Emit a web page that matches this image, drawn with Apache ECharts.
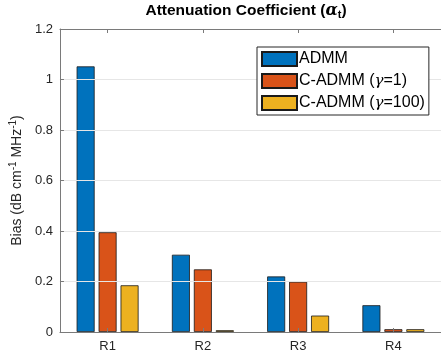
<!DOCTYPE html>
<html>
<head>
<meta charset="utf-8">
<script src="https://cdn.jsdelivr.net/npm/echarts@6/dist/echarts.min.js"></script>
<style>
  html, body { margin: 0; padding: 0; background: #fff; }
  #chart { width: 441px; height: 360px; }
</style>
</head>
<body>
<div id="chart"></div>
<script>
// 数据
const categories = ['R1', 'R2', 'R3', 'R4']
const admm = [1.052, 0.306, 0.220, 0.106]
const cadmm1 = [0.395, 0.248, 0.199, 0.011]
const cadmm100 = [0.185, 0.007, 0.065, 0.011]
const yTicks = [0, 0.2, 0.4, 0.6, 0.8, 1, 1.2]

const Colors = ['#0072BD', '#D95319', '#EDB120']
const FONT = '"Liberation Sans", Arial, sans-serif'
const SERIF = '"DejaVu Serif", serif'
const AXIS_COLOR = '#7a7a7a'
const TEXT_COLOR = '#262626'

const seriesList = [
  { name: 'ADMM', legend: 'ADMM', data: admm },
  { name: 'C-ADMM (γ=1)', legend: 'C-ADMM ({g|γ}=1)', data: cadmm1 },
  { name: 'C-ADMM (γ=100)', legend: 'C-ADMM ({g|γ}=100)', data: cadmm100 }
]

var myChart = echarts.init(document.getElementById('chart'), null, { renderer: 'canvas' })

var option = {
  animation: false,
  textStyle: { fontFamily: FONT },
  title: {
    text: 'Attenuation Coefficient ({a|α}{sub|t})',
    left: 246,
    textAlign: 'center',
    top: 1,
    padding: 0,
    textStyle: {
      color: '#000',
      fontSize: 15.5,
      fontWeight: 'bold',
      fontFamily: FONT,
      rich: {
        a: { fontSize: 16, fontStyle: 'italic', fontFamily: SERIF, color: '#000' },
        sub: { fontSize: 11, fontWeight: 'bold', fontFamily: FONT, verticalAlign: 'bottom', padding: [8, 0, 0, 0], color: '#000' }
      }
    }
  },
  legend: {
    data: seriesList.map(x => x.name),
    orient: 'vertical',
    left: 257,
    top: 47,
    z: 20,
    padding: [4, 4, 4, 4],
    itemGap: 6,
    itemWidth: 35,
    itemHeight: 14,
    backgroundColor: '#fff',
    borderColor: '#262626',
    borderWidth: 1,
    borderRadius: 0,
    icon: 'rect',
    formatter: function (name) {
      return seriesList.find(x => x.name === name).legend
    },
    textStyle: {
      color: '#000',
      fontSize: 16,
      fontFamily: FONT,
      padding: [0, 0, 0, -3],
      rich: {
        g: { fontSize: 15, fontStyle: 'italic', fontFamily: SERIF, color: '#000' }
      }
    }
  },
  grid: {
    left: 56,
    top: 29,
    width: 392,
    height: 303
  },
  xAxis: [
    {
      type: 'category',
      data: categories,
      boundaryGap: true,
      z: 10,
      axisLine: { show: true, lineStyle: { color: AXIS_COLOR, width: 1 } },
      axisTick: { show: true, inside: true, alignWithLabel: true, length: 4, lineStyle: { color: AXIS_COLOR } },
      axisLabel: { color: TEXT_COLOR, fontSize: 13, margin: 8, fontFamily: FONT }
    },
    {
      type: 'category',
      data: categories,
      position: 'top',
      boundaryGap: true,
      z: 10,
      axisLine: { show: true, lineStyle: { color: AXIS_COLOR, width: 1 } },
      axisTick: { show: true, inside: true, alignWithLabel: true, length: 4, lineStyle: { color: AXIS_COLOR } },
      axisLabel: { show: false }
    }
  ],
  yAxis: {
    type: 'value',
    min: 0,
    max: 1.2,
    interval: 0.2,
    name: 'Bias (dB cm{sup|-1} MHz{sup|-1})',
    nameLocation: 'middle',
    nameGap: 22,
    nameTextStyle: {
      color: TEXT_COLOR,
      fontSize: 14,
      fontFamily: FONT,
      rich: {
        sup: { fontSize: 10, fontFamily: FONT, verticalAlign: 'top', padding: [0, 0, 8, 0], color: TEXT_COLOR }
      }
    },
    z: 10,
    axisLine: { show: true, lineStyle: { color: AXIS_COLOR, width: 1 } },
    axisTick: { show: true, inside: true, length: 4, lineStyle: { color: AXIS_COLOR } },
    splitLine: { show: true, lineStyle: { color: '#e6e6e6', width: 1 } },
    axisLabel: {
      color: TEXT_COLOR,
      fontSize: 13,
      margin: 7,
      fontFamily: FONT,
      formatter: function (v) {
        var t = yTicks.find(x => Math.abs(x - v) < 1e-9)
        return t === undefined ? '' : String(t)
      }
    }
  },
  series: seriesList.map((x, i) => ({
    name: x.name,
    type: 'bar',
    data: x.data,
    barWidth: 18,
    barGap: '22%',
    itemStyle: {
      color: Colors[i],
      borderColor: '#1a1a1a',
      borderWidth: 0.8
    }
  }))
}

myChart.setOption(option, true)
</script>
</body>
</html>
